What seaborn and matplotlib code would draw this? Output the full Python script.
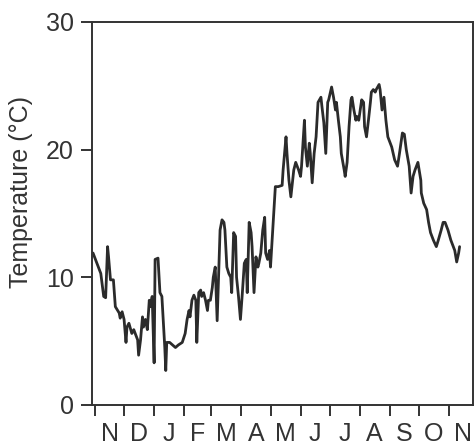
import matplotlib
matplotlib.use("Agg")
import matplotlib.pyplot as plt
import seaborn as sns
import pandas as pd

# Day index counted from 1 November (approx.)
days = [-2, 2, 6, 9, 11, 13, 14, 16, 19, 21, 25, 26, 28, 30, 32, 33, 35, 38, 40, 44,
        45, 47, 49, 50, 52, 54, 56, 57, 59, 61, 62, 65, 67, 69, 72, 73, 74, 77, 80, 83,
        86, 90, 93, 95, 97, 98, 100, 102, 104, 105, 107, 109, 110, 112, 114, 116, 117, 119, 121, 122,
        124, 126, 128, 129, 131, 133, 134, 136, 138, 140, 141, 143, 145, 146, 148, 150, 152, 154, 156, 157,
        159, 161, 162, 164, 166, 168, 169, 171, 173, 175, 176, 178, 180, 181, 186, 189, 193, 194, 197, 198,
        200, 202, 205, 207, 210, 212, 213, 216, 217, 219, 221, 222, 224, 226, 228, 230, 233, 234, 236, 238,
        240, 241, 244, 246, 248, 249, 251, 253, 254, 257, 258, 260, 262, 264, 265, 267, 269, 270, 272, 275,
        277, 278, 280, 282, 284, 285, 287, 289, 290, 293, 294, 296, 298, 300, 302, 306, 309, 312, 314, 317,
        319, 321, 324, 326, 328, 330, 333, 336, 336.5, 339, 342, 344, 346, 349, 352, 354, 357, 359, 361, 364,
        367, 371, 373, 375, 376]
temps = [11.9, 11.1, 10.3, 8.5, 8.4, 12.4, 11.6, 9.8, 9.8, 7.7, 7.2, 6.8, 7.3, 6.7, 4.9, 6.1, 6.4, 5.6, 5.9, 5.1,
         3.9, 5.1, 6.9, 6.1, 6.7, 5.9, 8.2, 7.7, 8.5, 3.3, 11.4, 11.5, 8.8, 8.5, 4.5, 2.7, 4.9, 4.9, 4.7, 4.5,
         4.7, 4.9, 5.6, 6.7, 7.4, 6.9, 8.2, 8.6, 8.2, 4.9, 8.8, 9.0, 8.5, 8.8, 8.2, 7.4, 8.2, 8.2, 9.2, 10.0,
         10.8, 6.6, 11.4, 13.7, 14.5, 14.3, 13.7, 10.8, 10.3, 10.0, 8.8, 13.5, 13.2, 10.0, 8.5, 6.7, 8.8, 11.1, 11.4, 8.8,
         14.3, 13.5, 12.4, 8.8, 11.6, 10.8, 11.1, 11.9, 13.7, 14.7, 11.9, 11.4, 12.1, 10.8, 17.1, 17.1, 17.2, 18.4, 21.0, 19.7,
         17.6, 16.3, 18.4, 19.0, 18.4, 17.9, 18.7, 22.3, 20.2, 18.7, 20.5, 19.7, 17.4, 19.7, 21.0, 23.7, 24.1, 23.4, 22.1, 19.7,
         23.7, 23.9, 24.9, 24.1, 23.1, 23.7, 22.3, 21.0, 19.7, 18.4, 17.9, 19.0, 21.8, 23.9, 24.1, 23.1, 22.3, 22.6, 22.3, 23.9,
         23.7, 21.8, 21.0, 22.3, 23.7, 24.5, 24.7, 24.5, 24.7, 25.1, 24.7, 23.1, 24.1, 22.3, 21.0, 20.2, 19.2, 18.7, 19.7, 21.3,
         21.2, 20.0, 18.7, 16.6, 17.9, 18.4, 19.0, 17.6, 16.6, 15.8, 15.3, 14.3, 13.5, 12.9, 12.4, 12.9, 13.7, 14.3, 14.3, 13.7,
         12.9, 12.1, 11.2, 11.9, 12.4]

month_starts = [0, 30, 61, 92, 120, 151, 181, 212, 242, 273, 304, 334, 365]
month_mids = [15, 45.5, 76.5, 106, 135.5, 166, 196.5, 227, 257.5, 288.5, 319, 349.5, 380]
month_labels = ["N", "D", "J", "F", "M", "A", "M", "J", "J", "A", "S", "O", "N"]
y_ticks = [0, 10, 20, 30]

sns.set_style("ticks")
plt.rcParams["font.family"] = ["Liberation Sans", "DejaVu Sans"]

ink = "#333333"
fig = plt.figure(figsize=(4.77, 4.47), dpi=100)
ax = fig.add_axes([0.193, 0.094, 0.799, 0.857])

df = pd.DataFrame({"day": days, "temp": temps})
sns.lineplot(data=df, x="day", y="temp", ax=ax, color="#2b2b2b", linewidth=2.0, sort=False)

ax.set_xlim(-3, 390)
ax.set_ylim(0, 30)
ax.set_yticks(y_ticks)
ax.set_xticks(month_starts)
ax.set_xticklabels([])
ax.set_xticks(month_mids, minor=True)
ax.set_xticklabels(month_labels, minor=True)
ax.tick_params(axis="x", which="major", length=8, width=1.4, color=ink, direction="out")
ax.tick_params(axis="x", which="minor", length=0, pad=12, labelsize=18, labelcolor=ink)
ax.tick_params(axis="y", which="major", length=8, width=1.4, color=ink, pad=5, labelsize=18, labelcolor=ink)

for s in ax.spines.values():
    s.set_visible(True)
    s.set_color(ink)
    s.set_linewidth(1.4)

ax.set_xlabel("")
ax.set_ylabel("Temperature (°C)", fontsize=18, color=ink)
ax.yaxis.set_label_coords(-0.155, 0.555)

fig.savefig("out.png", dpi=100)
